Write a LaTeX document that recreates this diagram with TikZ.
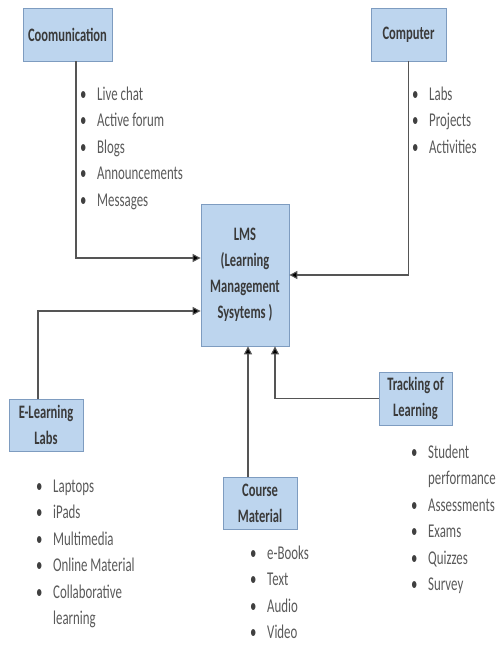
\documentclass[tikz,border=0pt]{standalone}
\usepackage{fontspec}
\setmainfont{Carlito}[FakeStretch=0.66]
\usetikzlibrary{arrows.meta}
\definecolor{boxfill}{HTML}{BDD5EE}
\definecolor{boxline}{HTML}{7E9CC0}
\definecolor{boxtext}{HTML}{3A3A3A}
\definecolor{listtext}{HTML}{5A5A5A}
\definecolor{linkline}{HTML}{555555}
\newcommand{\itemlist}[1]{\fontsize{19.5}{26.5}\selectfont
  \begin{tabular}[t]{@{}p{17pt}@{}l@{}}#1\end{tabular}}
\newcommand{\dotitem}{\textcolor{darkgray}{\textbullet}}

\begin{document}
\begin{tikzpicture}[x=1pt,y=-1pt,
    box/.style={draw=boxline,fill=boxfill,line width=0.8pt,text=boxtext,
      font=\bfseries\fontsize{19}{26}\selectfont,align=center,inner sep=0pt},
    items/.style={anchor=base west,inner sep=0pt,text=listtext},
    link/.style={draw=linkline,line width=1.1pt,
      -{Triangle[length=8pt,width=8pt,fill=black]}}]

  \useasboundingbox (0,0) rectangle (498,645);

  \begin{scope}
    \node[box,minimum width=89pt,minimum height=53pt]  (comm)   at (67.5,34.5)  {Coomunication};
    \node[box,minimum width=75pt,minimum height=53pt]  (comp)   at (408.5,34.5) {Computer};
    \node[box,minimum width=88pt,minimum height=142pt] (lms)    at (245,275)    {LMS\\(Learning\\Management\\Sysytems )};
    \node[box,minimum width=74pt,minimum height=52pt]  (elab)   at (46,425)     {E-Learning\\Labs};
    \node[box,minimum width=74pt,minimum height=52pt]  (course) at (260,503)    {Course\\Material};
    \node[box,minimum width=73pt,minimum height=53pt]  (track)  at (415.5,398.5) {Tracking of\\Learning};
  \end{scope}

  % bullet lists
  \node[items] (commlist)   at (80,100)  {\itemlist{\dotitem & Live chat\\ \dotitem & Active forum\\ \dotitem & Blogs\\ \dotitem & Announcements\\ \dotitem & Messages}};
  \node[items] (complist)   at (412,100) {\itemlist{\dotitem & Labs\\ \dotitem & Projects\\ \dotitem & Activities}};
  \node[items] (elablist)   at (36,492)  {\itemlist{\dotitem & Laptops\\ \dotitem & iPads\\ \dotitem & Multimedia\\ \dotitem & Online Material\\ \dotitem & Collaborative\\ & learning}};
  \node[items] (courselist) at (250,559) {\raisebox{0pt}[\height][0pt]{\itemlist{\dotitem & e-Books\\ \dotitem & Text\\ \dotitem & Audio\\ \dotitem & Video}}};
  \node[items] (tracklist)  at (411,458) {\itemlist{\dotitem & Student\\ & performance\\ \dotitem & Assessments\\ \dotitem & Exams\\ \dotitem & Quizzes\\ \dotitem & Survey}};

  % connectors
  \draw[link] ([xshift=8.5pt]comm.south) |- ([yshift=17pt]lms.west);
  \draw[link] (comp.south) |- (lms.east);
  \draw[link] ([xshift=-8pt]elab.north) |- ([yshift=-36pt]lms.west);
  \draw[link] ([xshift=-12pt]course.north) -- ([xshift=-12pt]course.north |- lms.south);
  \draw[link] (track.west) -| ([xshift=30pt]lms.south);

\end{tikzpicture}
\end{document}
